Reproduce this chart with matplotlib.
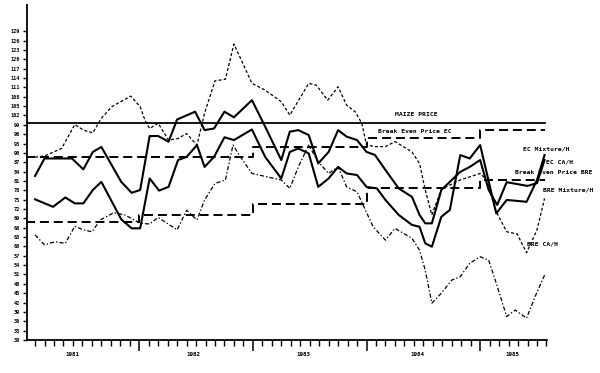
import matplotlib
matplotlib.use("Agg")
import matplotlib.pyplot as plt

plt.rcParams["lines.scale_dashes"] = False

# time axis in months counted from January 1981
year_labels = ["1981", "1982", "1983", "1984", "1985"]
year_label_pos = [5.0, 17.7, 29.3, 41.4, 51.4]
year_starts = [0, 12, 24, 36, 48]
last_month = 54.8

# index values
maize_price = 99.6
bep_ec = [88.8, 88.8, 92.0, 94.7, 97.3]
bep_bre = [67.9, 70.1, 73.6, 78.6, 81.3]

ec_mix_m = [1.0, 2.9, 4.2, 5.2, 6.1, 7.1, 8.0, 10.1, 11.2, 12.1, 13.1, 14.1, 15.1, 16.1,
            17.0, 18.1, 18.9, 19.9, 21.0, 22.0, 23.9, 25.3, 27.0, 27.9, 28.8, 29.9, 30.9,
            32.0, 33.0, 33.9, 35.0, 36.0, 37.1, 38.0, 39.4, 40.8, 41.6, 42.2, 42.9, 43.9,
            44.8, 45.9, 46.9, 48.0, 49.7, 50.8, 51.9, 52.9, 54.0, 54.8]
ec_mix_v = [75.1, 72.7, 75.7, 73.8, 73.8, 78.1, 80.7, 68.7, 65.8, 65.8, 81.8, 77.9, 79.1, 87.7,
            88.7, 92.5, 85.5, 88.7, 95.0, 94.1, 97.5, 88.7, 81.8, 90.3, 91.4, 89.8, 79.1,
            81.8, 85.5, 83.4, 82.9, 79.1, 78.6, 74.9, 70.1, 66.9, 66.3, 61.0, 59.9, 69.5,
            71.7, 89.3, 88.2, 92.5, 70.6, 74.9, 74.6, 74.3, 81.3, 89.3]

ec_ca_m = [1.0, 2.0, 4.9, 6.1, 7.1, 8.0, 10.1, 11.2, 12.1, 13.1, 14.0, 15.1, 16.0, 17.9,
           18.9, 19.9, 21.0, 22.0, 23.9, 25.3, 27.0, 27.9, 28.8, 29.9, 30.9, 32.0, 33.0,
           33.9, 35.0, 36.0, 36.9, 38.0, 39.4, 40.8, 41.6, 42.2, 42.9, 43.9, 45.9, 46.9,
           48.0, 48.9, 49.8, 50.8, 51.9, 53.0, 54.0, 54.8]
ec_ca_v = [82.6, 88.2, 88.2, 84.7, 90.3, 91.9, 80.7, 77.2, 78.1, 95.4, 95.4, 93.6, 100.7, 103.2,
           97.3, 97.8, 103.2, 101.4, 106.9, 98.4, 87.7, 96.8, 97.3, 95.7, 86.6, 90.3, 97.3,
           95.2, 94.1, 90.3, 89.3, 84.5, 78.6, 75.9, 70.1, 67.4, 67.4, 78.1, 83.9, 85.5,
           87.7, 78.1, 73.3, 80.6, 80.0, 79.4, 80.3, 87.7]

bre_mix_m = [1.0, 2.0, 3.8, 5.2, 6.1, 7.1, 8.0, 9.1, 11.1, 12.1, 12.6, 13.1, 14.0, 15.1,
             16.1, 17.0, 18.1, 18.9, 20.0, 21.1, 22.0, 23.9, 25.3, 27.0, 27.9, 29.9, 30.7,
             31.9, 33.0, 33.9, 34.8, 35.5, 36.0, 36.9, 38.0, 39.0, 39.9, 40.8, 41.6, 42.2,
             42.9, 43.9, 44.8, 45.9, 46.9, 48.0, 48.7, 49.6, 50.8, 51.9, 52.9, 54.0, 54.8]
bre_mix_v = [88.6, 89.0, 91.4, 99.1, 97.3, 96.4, 101.1, 104.8, 108.2, 104.8, 100.5, 97.8, 99.5, 94.1,
             94.6, 96.2, 92.5, 102.7, 113.1, 113.6, 124.9, 112.3, 110.1, 106.4, 102.1, 112.3, 111.7,
             106.9, 111.2, 105.3, 103.2, 99.5, 92.5, 92.0, 92.0, 93.6, 92.0, 90.3, 86.6, 78.1,
             70.1, 78.3, 79.7, 81.3, 82.3, 83.4, 81.3, 71.7, 64.7, 64.0, 58.0, 65.3, 75.4]

bre_ca_m = [1.0, 2.0, 3.1, 4.2, 5.2, 6.1, 7.0, 7.9, 9.3, 10.5, 12.1, 13.1, 14.0, 14.7,
            16.0, 17.0, 18.1, 18.9, 20.0, 21.1, 21.9, 22.8, 23.9, 27.0, 27.9, 28.8, 29.9,
            30.9, 32.0, 33.0, 33.9, 35.0, 35.8, 36.7, 38.0, 39.0, 40.8, 41.6, 42.2, 42.9,
            43.9, 45.0, 45.9, 46.9, 48.0, 48.9, 49.7, 50.8, 51.7, 52.9, 53.8, 54.8]
bre_ca_v = [63.7, 60.5, 61.5, 61.0, 66.5, 65.3, 64.7, 68.5, 70.8, 70.1, 67.4, 67.2, 69.3, 67.9,
            65.3, 71.6, 68.5, 74.9, 80.2, 81.3, 92.5, 88.2, 83.4, 81.3, 78.6, 85.5, 92.5,
            87.1, 83.4, 85.5, 79.1, 77.5, 72.2, 66.3, 62.0, 65.8, 62.6, 58.8, 52.4, 41.8,
            45.0, 49.2, 50.3, 54.6, 56.7, 55.6, 48.2, 37.5, 39.6, 37.0, 43.9, 50.8]

fig = plt.figure(figsize=(6, 3.73), dpi=100)
ax = fig.add_axes([0.045, 0.0885, 0.8667, 0.898])

ax.plot([year_starts[0], last_month], [maize_price, maize_price], color="black", lw=1.3)
ax.step(year_starts + [last_month], bep_ec + [bep_ec[-1]], where="post",
        color="black", lw=1.4, dashes=(6.5, 3.5))
ax.step(year_starts + [last_month], bep_bre + [bep_bre[-1]], where="post",
        color="black", lw=1.4, dashes=(6.5, 3.5))
ax.plot(ec_mix_m, ec_mix_v, color="black", lw=1.5)
ax.plot(ec_ca_m, ec_ca_v, color="black", lw=1.5)
ax.plot(bre_mix_m, bre_mix_v, color="black", lw=0.9, dashes=(2.2, 1.5))
ax.plot(bre_ca_m, bre_ca_v, color="black", lw=0.9, dashes=(3, 1.5, 1, 1.5))

lab = dict(family="DejaVu Sans Mono", fontweight="bold", fontsize=4.6, color="black",
           va="center", ha="left", clip_on=False)
ax.text(39.0, 102.3, "MAIZE PRICE", **lab)
ax.text(37.2, 96.7, "Break Even Price EC", **lab)
ax.text(52.5, 91.2, "EC Mixture/H", **lab)
ax.text(54.9, 87.0, "EC CA/H", **lab)
ax.text(51.7, 83.6, "Break Even Price BRE", **lab)
ax.text(54.6, 78.1, "BRE Mixture/H", **lab)
ax.text(52.9, 60.7, "BRE CA/H", **lab)

ax.set_xlim(0.15, 55.06)
ax.set_ylim(30, 137.4)

ax.set_yticks(list(range(30, 130, 3)))
ax.set_yticklabels([str(v) for v in range(30, 130, 3)], family="DejaVu Sans Mono",
                   fontweight="bold", fontsize=3.8)
ax.tick_params(axis="y", length=3, width=1, pad=2)

ax.set_xticks(year_starts[1:])
ax.set_xticklabels([])
ax.set_xticks(list(range(1, 56)), minor=True)
ax.tick_params(axis="x", which="major", length=8, width=1.1, direction="out")
ax.tick_params(axis="x", which="minor", length=4, width=1, direction="out")
for lbl, pos in zip(year_labels, year_label_pos):
    ax.text(pos, -0.035, lbl, transform=ax.get_xaxis_transform(), ha="center", va="top",
            family="DejaVu Sans Mono", fontweight="bold", fontsize=4.2)

for side in ["top", "right"]:
    ax.spines[side].set_visible(False)
ax.spines["left"].set_linewidth(1.3)
ax.spines["bottom"].set_linewidth(1.3)

fig.savefig("out.png", dpi=100)
